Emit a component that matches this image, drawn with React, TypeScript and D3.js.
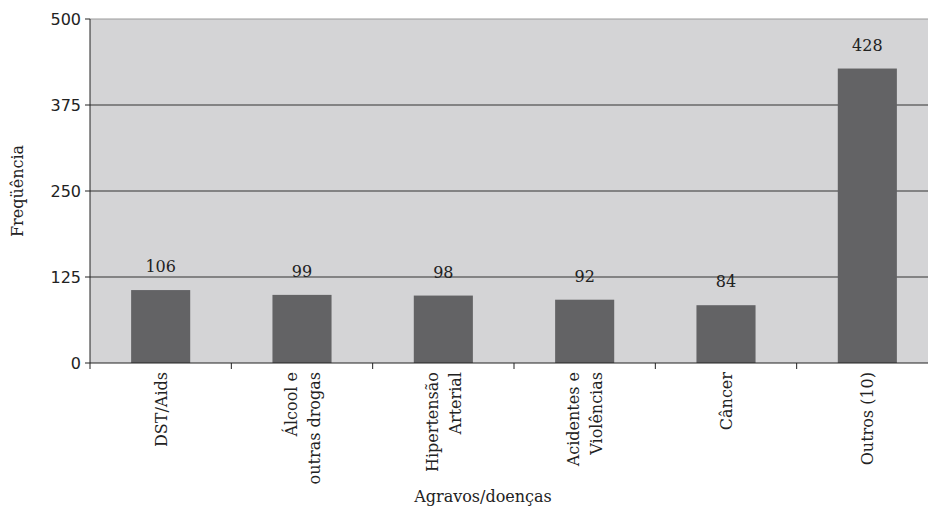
import React from "react";
import * as d3 from "d3";

const categories: string[][] = [
  ["DST/Aids"],
  ["Álcool e", "outras drogas"],
  ["Hipertensão", "Arterial"],
  ["Acidentes e", "Violências"],
  ["Câncer"],
  ["Outros (10)"],
];
const values: number[] = [106, 99, 98, 92, 84, 428];
const yTicks: number[] = [0, 125, 250, 375, 500];

const W = 928;
const H = 507;
// The plot area runs slightly past the right edge of the canvas.
const margin = { top: 19, right: -10, bottom: 144, left: 90 };

export default function App() {
  const x = d3
    .scaleBand<number>()
    .domain(values.map((_, i) => i))
    .range([margin.left, W - margin.right])
    .paddingInner(0)
    .paddingOuter(0);
  const y = d3.scaleLinear().domain([0, 500]).range([H - margin.bottom, margin.top]);
  const bw = x.bandwidth() * 0.418;
  const serif = "'DejaVu Serif', serif";
  const sans = "'DejaVu Sans', sans-serif";

  return (
    <svg width={W} height={H} style={{ position: "absolute", left: 0, top: 0 }}>
      <rect
        x={margin.left}
        y={margin.top}
        width={W - margin.left - margin.right}
        height={y(0) - margin.top}
        fill="#d4d4d6"
      />
      {yTicks.map((t) => (
        <g key={t}>
          {t > 0 && (
            <line
              x1={margin.left}
              x2={W - margin.right}
              y1={y(t)}
              y2={y(t)}
              stroke={t === 500 ? "#9a9a9a" : "#333"}
              strokeWidth={1}
            />
          )}
          <line x1={margin.left - 5} x2={margin.left} y1={y(t)} y2={y(t)} stroke="#222" />
          <text
            x={margin.left - 9}
            y={y(t)}
            dy="0.35em"
            textAnchor="end"
            fontFamily={sans}
            fontSize={16}
            fill="#222"
          >
            {t}
          </text>
        </g>
      ))}
      {values.map((v, i) => {
        const cx = (x(i) as number) + x.bandwidth() / 2;
        return (
          <g key={i}>
            <rect x={cx - bw / 2} y={y(v)} width={bw} height={y(0) - y(v)} fill="#636365" />
            <text
              x={cx}
              y={y(v) - 18}
              textAnchor="middle"
              fontFamily={serif}
              fontSize={16}
              fill="#222"
            >
              {v}
            </text>
          </g>
        );
      })}
      <line x1={margin.left} x2={margin.left} y1={margin.top} y2={y(0)} stroke="#222" />
      <line x1={margin.left} x2={W} y1={y(0)} y2={y(0)} stroke="#222" />
      {d3.range(values.length + 1).map((i) => {
        const tx = margin.left + i * x.bandwidth();
        return <line key={i} x1={tx} x2={tx} y1={y(0)} y2={y(0) + 6} stroke="#222" />;
      })}
      {categories.map((lines, i) => {
        const cx = (x(i) as number) + x.bandwidth() / 2;
        const n = lines.length;
        return lines.map((ln, j) => {
          const lx = cx + (j - (n - 1) / 2) * 23 + 6;
          return (
            <text
              key={`${i}-${j}`}
              transform={`translate(${lx},${y(0) + 9}) rotate(-90)`}
              textAnchor="end"
              fontFamily={serif}
              fontSize={16}
              fill="#222"
            >
              {ln}
            </text>
          );
        });
      })}
      <text x={483} y={502} textAnchor="middle" fontFamily={serif} fontSize={16} fill="#222">
        Agravos/doenças
      </text>
      <text
        transform={`translate(23,${(margin.top + y(0)) / 2}) rotate(-90)`}
        textAnchor="middle"
        fontFamily={serif}
        fontSize={16}
        fill="#222"
      >
        Freqüência
      </text>
    </svg>
  );
}
